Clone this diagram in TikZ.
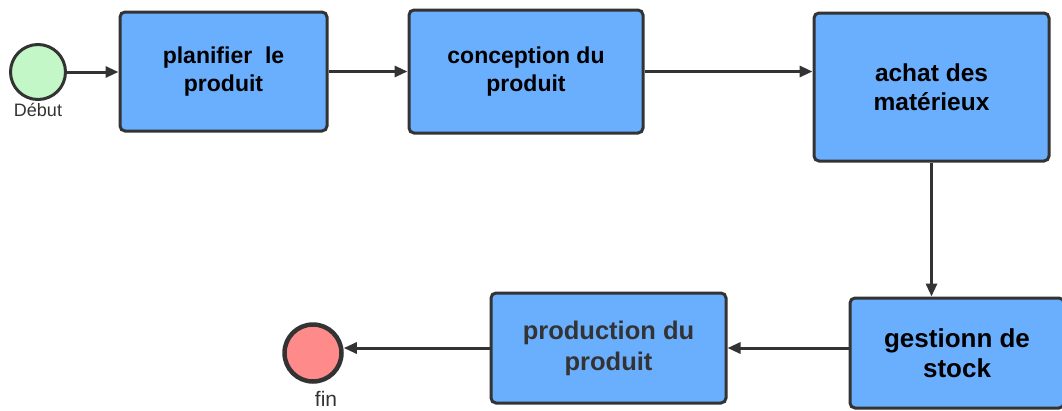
\documentclass[tikz,border=0pt]{standalone}
\usepackage{fontspec}
\setmainfont{Liberation Sans}
\usetikzlibrary{arrows.meta}
\definecolor{boxfill}{HTML}{6AAEFE}
\definecolor{edge}{HTML}{333333}
\definecolor{startfill}{HTML}{C3F7C8}
\definecolor{endfill}{HTML}{FF8A8A}
\tikzset{
  task/.style={draw=edge, fill=boxfill, line width=3pt, rounded corners=5pt,
    align=center, font=\bfseries\fontsize{23}{28}\selectfont, inner sep=0pt},
  event/.style={circle, draw=edge, line width=3pt, minimum size=#1, inner sep=0pt},
  flow/.style={draw=edge, line width=3pt, -{Triangle[length=13pt,width=11pt]}},
  evlabel/.style={text=edge, font=\fontsize{18}{20}\selectfont, inner sep=0pt}
}
\begin{document}
\begin{tikzpicture}[x=1pt,y=-1pt]
\clip (0,0) rectangle (1062,410);
\fill[white] (0,0) rectangle (1062,410);

% start and end events
\node[event=55pt, fill=startfill] (start) at (38,72) {};
\node[evlabel] (startlbl) at (38,110) {Début};
\node[event=57pt, line width=4.5pt, fill=endfill] (end) at (313,353) {};
\node[evlabel, font=\fontsize{21}{22}\selectfont] (endlbl) at (326,399) {fin};

% tasks
\node[task, minimum width=207pt, minimum height=119pt] (t1) at (223.5,71.5) {planifier\ \ le\\produit};
\node[task, minimum width=234pt, minimum height=123pt] (t2) at (526,71.5) {conception du\\produit};
\node[task, minimum width=235pt, minimum height=148pt,
      font=\bfseries\fontsize{24.5}{29}\selectfont] (t3) at (931.5,87) {achat des\\matérieux};
\node[task, minimum width=214pt, minimum height=110pt,
      font=\bfseries\fontsize{26}{30}\selectfont] (t4) at (957,353) {gestionn de\\stock};
\node[task, minimum width=235pt, minimum height=110pt, text=edge,
      font=\bfseries\fontsize{25.5}{31}\selectfont] (t5) at (608.5,348) {production du\\produit};

% sequence flows
\draw[flow] (start.east) -- (t1.west |- start.east);
\draw[flow] (t1.east) -- (t2.west |- t1.east);
\draw[flow] (t2.east) -- (t3.west |- t2.east);
\draw[flow] (t3.south) -- (t4.north -| t3.south);
\draw[flow] (t4.west |- t5.east) -- (t5.east);
\draw[flow] (t5.west) -- (end.east |- t5.west);
\end{tikzpicture}
\end{document}
